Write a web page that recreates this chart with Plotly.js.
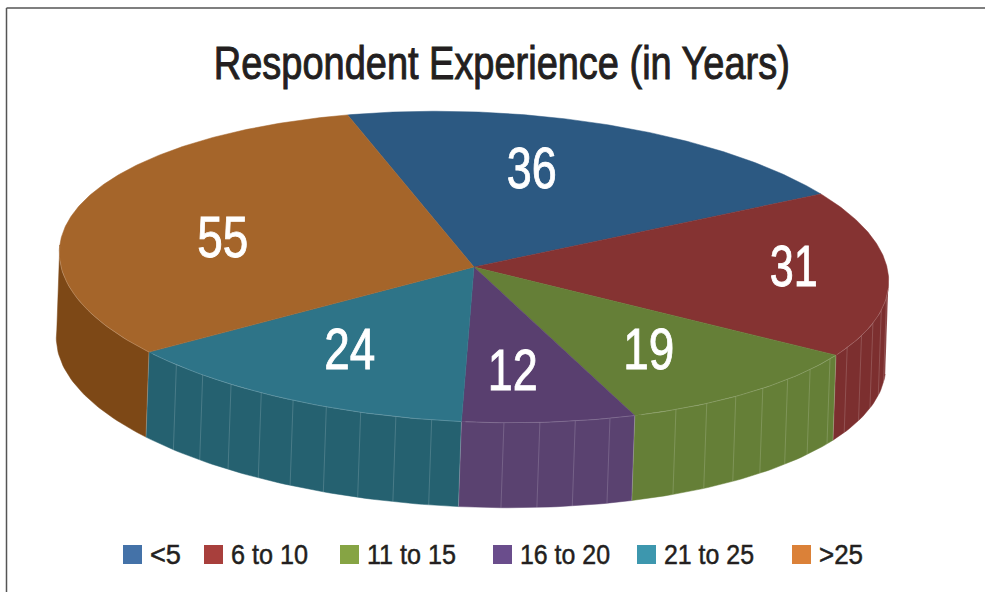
<!DOCTYPE html>
<html><head><meta charset="utf-8">
<script src="https://cdn.plot.ly/plotly-3.0.1.min.js"></script>
<style>html,body{margin:0;padding:0;background:#fff}#c{width:985px;height:592px}
.gtitle{stroke:#231f20;stroke-width:1px}
.legendtext{stroke:#231f20;stroke-width:.5px}
.annotation-text{stroke:#fff;stroke-width:.9px}
</style></head>
<body><div id="c"></div>
<script>
const categories = ["<5","6 to 10","11 to 15","16 to 20","21 to 25",">25"];
const values = [36,31,19,12,24,55];
const topColors = ["#2c5982","#853332","#657f37","#593f6f","#2e7488","#a5652a"];
const wallColors = ["#2c5982","#7c2f2f","#657f37","#5a4270","#256170","#7d4816"];
const legendColors = ["#4472a8","#a83f3c","#86a444","#6a4d8c","#3d97ae","#db8138"];

// layout constants (pixels of the 985x592 page)
const W=985,H=592;
const cx=474,cy=267,rx=415,ry=155,tilt=2.3*Math.PI/180,depth=85;
const labelCentres=[[531,168],[793,266],[648,349],[512,370],[349,349],[222,237]];
const labelWidths=[50,48,51,50,51,51];
const legendSwatchX=[123,204,340,493,637,792];
const legendTextW=[31,77,89,90,90,44];

// projected angle of the disc: a true slice angle t is foreshortened by the view
const disp=t=>t-17.9-0.7*Math.cos(2*t*Math.PI/180);
function pt(deg,dy){
  const a=deg*Math.PI/180;
  const ex=rx*Math.sin(a), ey=-ry*Math.cos(a);
  return [cx+(ex*Math.cos(tilt)-ey*Math.sin(tilt))-(dy?3:0),
          cy+(ex*Math.sin(tilt)+ey*Math.cos(tilt))+dy];
}
const total=values.reduce((a,b)=>a+b,0);
let acc=0;
const spans=values.map(v=>{const s=acc;acc+=v/total*360;return [disp(s),disp(acc)];});
const traces=[];
const inv=p=>[p[0],H-p[1]];
function poly(pts,color){
  const q=pts.map(inv);
  traces.push({x:q.map(p=>p[0]),y:q.map(p=>p[1]),mode:'lines',fill:'toself',fillcolor:color,
    line:{color:color,width:0.5},showlegend:false,hoverinfo:'skip'});
}
function stroke(pts,color,width){
  const q=pts.map(inv);
  traces.push({x:q.map(p=>p[0]),y:q.map(p=>p[1]),mode:'lines',line:{color,width},showlegend:false,hoverinfo:'skip'});
}
// side wall: only the front-facing part of each slice
const frontFrom=92,frontTo=272;
function wall(i){
  const a=Math.max(spans[i][0],frontFrom), b=Math.min(spans[i][1],frontTo);
  if(b<=a) return;
  const n=Math.max(2,Math.round(b-a));
  const up=[],dn=[];
  for(let j=0;j<=n;j++){const d=a+(b-a)*j/n;up.push(pt(d,0));dn.push(pt(d,depth));}
  poly(up.concat(dn.slice().reverse()),wallColors[i]);
  if(i!==5){
    for(let d=Math.ceil(a/5)*5;d<b;d+=5){
      if(d-a<1.5||b-d<1.5) continue;
      stroke([pt(d,0),pt(d,depth)],'rgba(255,255,255,0.24)',0.7);
    }
  }
  stroke([pt(a,0),pt(a,depth)],'rgba(255,255,255,0.3)',0.7);
}
values.forEach((v,i)=>wall(i));
// top faces
values.forEach((v,i)=>{
  const [s,e]=spans[i];
  const n=Math.round(e-s)*2;
  const pts=[[cx,cy]];
  for(let j=0;j<=n;j++)pts.push(pt(s+(e-s)*j/n,0));
  pts.push([cx,cy]);
  poly(pts,topColors[i]);
});
// light rim where the top meets the wall
values.forEach((v,i)=>{
  const a=Math.max(spans[i][0],frontFrom), b=Math.min(spans[i][1],frontTo);
  if(b<=a) return;
  const rim=[];
  for(let d=a;d<=b;d+=1)rim.push(pt(d,0));
  stroke(rim,'rgba(255,255,255,0.3)',0.6);
});
const fam='"Liberation Sans",Arial,sans-serif';
const annotations=values.map((v,i)=>({x:labelCentres[i][0],y:H-labelCentres[i][1],xref:'x',yref:'y',
  text:String(v),showarrow:false,font:{family:fam,size:57,color:'#fff'}}));
// legend entries
categories.forEach((c,i)=>traces.push({x:[null],y:[null],mode:'markers',name:c,
  marker:{symbol:'square',size:16,color:legendColors[i]},hoverinfo:'skip'}));

Plotly.newPlot('c',traces,{
  width:W,height:H,margin:{l:0,r:0,t:0,b:0},paper_bgcolor:'#fff',plot_bgcolor:'#fff',
  title:{text:'Respondent Experience (in Years)',x:0.5095,xanchor:'center',y:0.893,yanchor:'middle',
    font:{family:fam,size:46,color:'#231f20'}},
  xaxis:{range:[0,W],visible:false,fixedrange:true},
  yaxis:{range:[0,H],visible:false,fixedrange:true},
  showlegend:true,
  legend:{orientation:'h',x:0.5,xanchor:'center',y:0.02,yanchor:'bottom',bgcolor:'rgba(0,0,0,0)',
    font:{family:fam,size:28,color:'#231f20'},itemwidth:30},
  annotations,
  shapes:[
    {type:'line',xref:'paper',yref:'paper',x0:6.5/W,x1:1,y0:1-8/H,y1:1-8/H,line:{color:'#555',width:1.5}},
    {type:'line',xref:'paper',yref:'paper',x0:6.5/W,x1:6.5/W,y0:1-8/H,y1:0,line:{color:'#555',width:1.5}}
  ]
},{displayModeBar:false,staticPlot:true}).then(gd=>{
  // condensed typeface: the real text is narrowed to the reference widths
  const squeeze=(el,w)=>{el.setAttribute('textLength',w);el.setAttribute('lengthAdjust','spacingAndGlyphs');};
  const t=gd.querySelector('.gtitle'); if(t) squeeze(t,576);
  gd.querySelectorAll('.annotation-text').forEach((el,i)=>squeeze(el,labelWidths[i]));
  const lg=gd.querySelector('.legend');
  lg.setAttribute('transform','translate(0,0)');
  const sb=lg.querySelector('.scrollbox'); if(sb) sb.removeAttribute('clip-path');
  lg.querySelectorAll('.traces').forEach((g,i)=>{
    g.setAttribute('transform',`translate(${legendSwatchX[i]},554.5)`);
    const p=g.querySelector('.legendpoints path'); if(p) p.setAttribute('transform','translate(9.5,0) scale(1.19)');
    const tx=g.querySelector('.legendtext');
    tx.setAttribute('x',27); tx.setAttribute('y',9.8); squeeze(tx,legendTextW[i]);
  });
});
</script></body></html>
